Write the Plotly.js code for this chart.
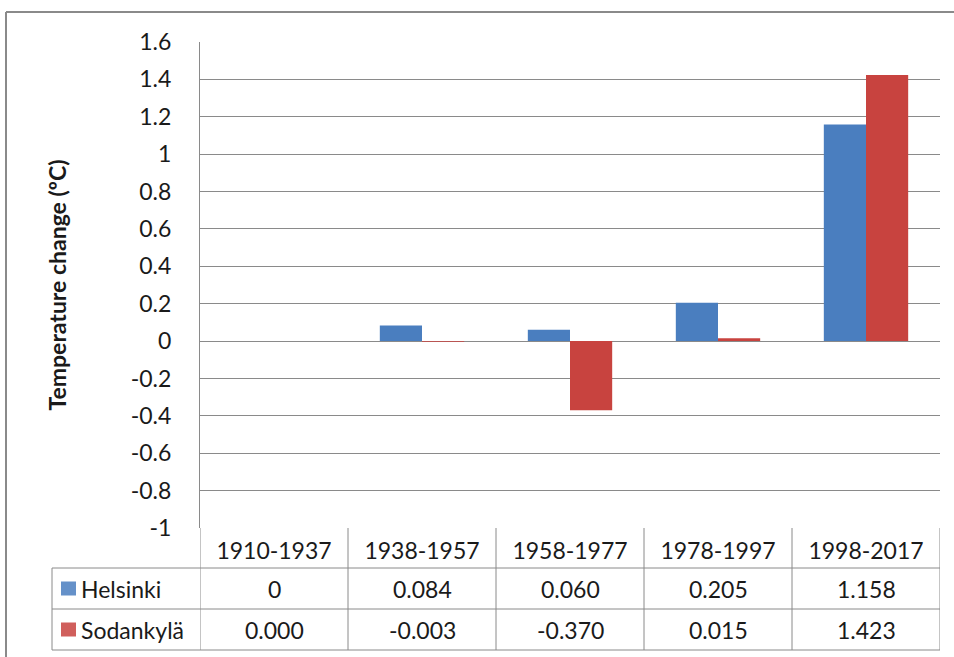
<!DOCTYPE html>
<html>
<head>
<meta charset="utf-8">
<script src="https://cdn.plot.ly/plotly-3.0.1.min.js"></script>
<style>
  html, body { margin: 0; padding: 0; background: #ffffff; }
  #chart { width: 954px; height: 657px; }
</style>
</head>
<body>
<div id="chart"></div>
<script>
// ---- data ----
const periods = ["1910-1937", "1938-1957", "1958-1977", "1978-1997", "1998-2017"];
const helsinki = [0, 0.084, 0.060, 0.205, 1.158];
const sodankyla = [0.000, -0.003, -0.370, 0.015, 1.423];
const helsinkiLabels = ["0", "0.084", "0.060", "0.205", "1.158"];
const sodankylaLabels = ["0.000", "-0.003", "-0.370", "0.015", "1.423"];
const seriesNames = ["Helsinki", "Sodankylä"];
const yTickVals = [1.6, 1.4, 1.2, 1, 0.8, 0.6, 0.4, 0.2, 0, -0.2, -0.4, -0.6, -0.8, -1];
const yTickText = ["1.6", "1.4", "1.2", "1", "0.8", "0.6", "0.4", "0.2", "0", "-0.2", "-0.4", "-0.6", "-0.8", "-1"];
const yTitle = "Temperature change (ºC)";

// ---- layout constants (pixels) ----
const W = 954, H = 657;
const M = { l: 200, r: 14, t: 42, b: 129 };
const plotW = W - M.l - M.r, plotH = H - M.t - M.b;
const py = px => (H - M.b - px) / plotH;     // pixel row -> paper y
const pxX = px => (px - M.l) / plotW;        // pixel col -> paper x

const blue = "#4A7EBF", red = "#C8433F", grid = "#8A8A8A", txt = "#1A1A1A";
const FONT = "Lato, 'Open Sans', sans-serif";

const rowTop = 568, rowMid = 609, rowBot = 650, tableLeft = 52;

const traces = [
  { type: "bar", name: seriesNames[0], x: periods, y: helsinki, marker: { color: blue, line: { width: 0 } }, hoverinfo: "x+y+name" },
  { type: "bar", name: seriesNames[1], x: periods, y: sodankyla, marker: { color: red, line: { width: 0 } }, hoverinfo: "x+y+name" }
];

const shapes = [];
const lineStyle = { color: grid, width: 1 };
// horizontal table lines
[rowTop, rowMid, rowBot].forEach(p => {
  shapes.push({ type: "line", xref: "paper", yref: "paper", x0: pxX(tableLeft), x1: 1, y0: py(p), y1: py(p), line: lineStyle });
});
// vertical column separators, on the category axis
for (let i = 0; i <= periods.length; i++) {
  shapes.push({ type: "line", xref: "x", yref: "paper", x0: i - 0.5, x1: i - 0.5, y0: 0, y1: py(rowBot), line: lineStyle });
}
// left edge of the legend column
shapes.push({ type: "line", xref: "paper", yref: "paper", x0: pxX(tableLeft), x1: pxX(tableLeft), y0: py(rowTop), y1: py(rowBot), line: lineStyle });
// legend keys
[[rowTop, rowMid, blue], [rowMid, rowBot, red]].forEach(([a, b, c]) => {
  const cy = (a + b) / 2;
  shapes.push({ type: "rect", xref: "paper", yref: "paper", x0: pxX(61), x1: pxX(76), y0: py(cy - 7), y1: py(cy + 7), fillcolor: c, line: { width: 0 }, opacity: 0.85 });
});
// outer chart frame (left and top)
shapes.push({ type: "line", xref: "paper", yref: "paper", x0: pxX(6), x1: pxX(6), y0: py(12), y1: py(H), line: { color: "#8A8A8A", width: 2 } });
shapes.push({ type: "line", xref: "paper", yref: "paper", x0: pxX(6), x1: pxX(W), y0: py(12), y1: py(12), line: { color: "#8A8A8A", width: 2 } });

const annotations = [];
const cellFont = { family: FONT, size: 23, color: txt };
[[helsinkiLabels, rowTop, rowMid], [sodankylaLabels, rowMid, rowBot]].forEach(([labels, a, b]) => {
  labels.forEach((t, i) => {
    annotations.push({ xref: "x", yref: "paper", x: periods[i], y: py((a + b) / 2), text: t, showarrow: false, font: cellFont, xanchor: "center", yanchor: "middle" });
  });
});
seriesNames.forEach((n, k) => {
  const a = k === 0 ? rowTop : rowMid, b = k === 0 ? rowMid : rowBot;
  annotations.push({ xref: "paper", yref: "paper", x: pxX(79), y: py((a + b) / 2), text: n, showarrow: false, font: cellFont, xanchor: "left", yanchor: "middle" });
});

const layout = {
  width: W, height: H,
  margin: M,
  paper_bgcolor: "#ffffff", plot_bgcolor: "#ffffff",
  showlegend: false,
  barmode: "group",
  bargap: 0.43, bargroupgap: 0,
  font: { family: FONT, color: txt },
  xaxis: {
    type: "category",
    tickvals: periods, ticktext: periods,
    showgrid: false, zeroline: false, showline: false,
    ticks: "outside", ticklen: 2, tickcolor: "rgba(0,0,0,0)",
    tickfont: { family: FONT, size: 23, color: txt },
    range: [-0.5, periods.length - 0.5],
    fixedrange: true
  },
  yaxis: {
    range: [-1, 1.6],
    tickvals: yTickVals, ticktext: yTickText,
    showgrid: true, gridcolor: grid, gridwidth: 1,
    zeroline: true, zerolinecolor: grid, zerolinewidth: 1,
    showline: true, linecolor: grid, linewidth: 1,
    ticks: "", ticklabelstandoff: 23,
    tickfont: { family: FONT, size: 23, color: txt },
    title: { text: "<b>" + yTitle + "</b>", font: { family: FONT, size: 23, color: txt }, standoff: 57 },
    automargin: false,
    fixedrange: true
  },
  shapes: shapes,
  annotations: annotations
};

Plotly.newPlot("chart", traces, layout, { displayModeBar: false, staticPlot: true });
</script>
</body>
</html>
